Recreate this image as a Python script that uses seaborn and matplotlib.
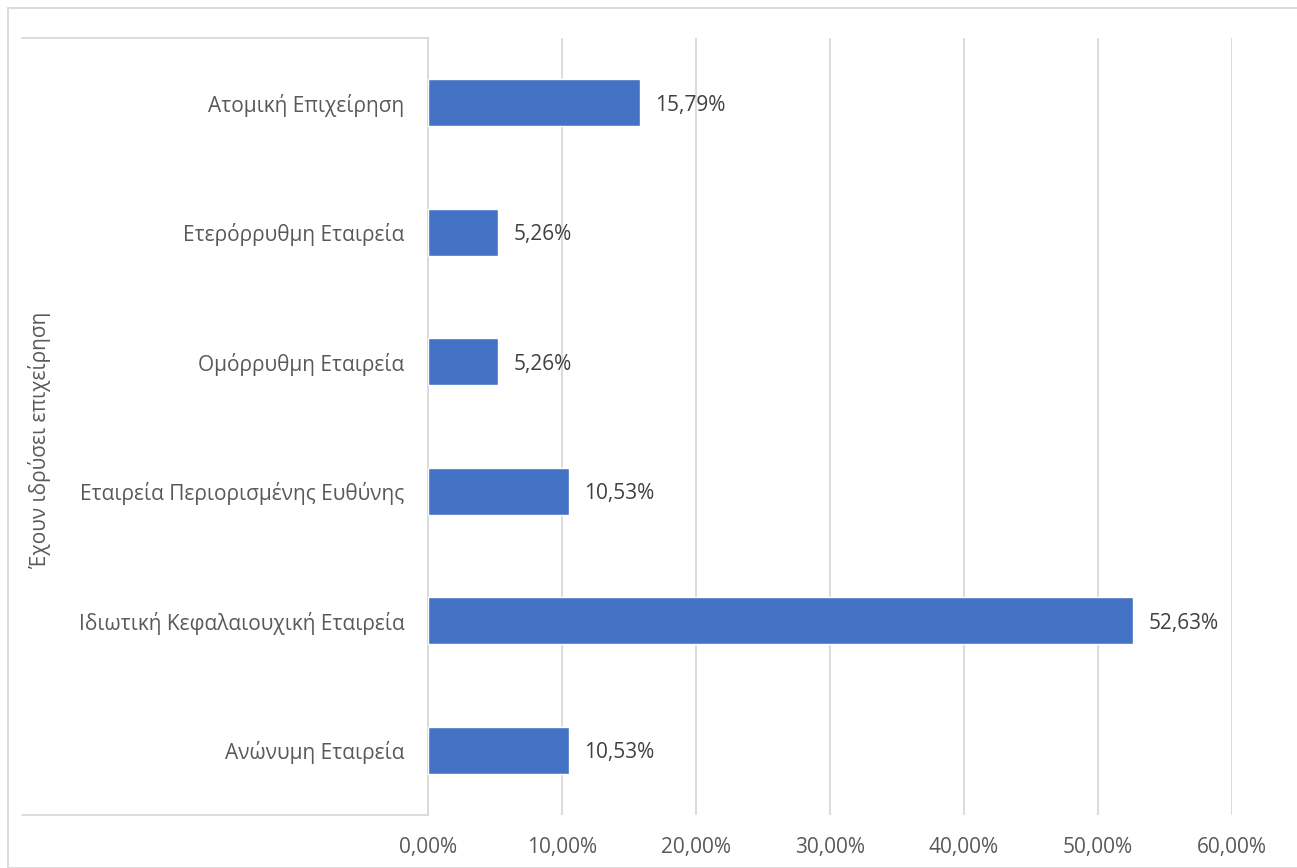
import matplotlib
matplotlib.use("Agg")
import matplotlib.pyplot as plt
from matplotlib.lines import Line2D
from matplotlib.patches import Rectangle
from matplotlib.ticker import FuncFormatter
import seaborn as sns
import pandas as pd

# ── data ──────────────────────────────────────────────────────────────
categories = ["Ατομική Επιχείρηση", "Ετερόρρυθμη Εταιρεία", "Ομόρρυθμη Εταιρεία",
              "Εταιρεία Περιορισμένης Ευθύνης", "Ιδιωτική Κεφαλαιουχική Εταιρεία",
              "Ανώνυμη Εταιρεία"]
values = [15.79, 5.26, 5.26, 10.53, 52.63, 10.53]
xticks = [0, 10, 20, 30, 40, 50, 60]
axis_title = "Έχουν ιδρύσει επιχείρηση"

df = pd.DataFrame({"cat": categories, "val": values})

sns.set_theme(style="white")
plt.rcParams['font.family'] = ['Open Sans', 'DejaVu Sans']

W, H = 1297, 868
FS = 15
fig = plt.figure(figsize=(W / 100, H / 100), dpi=100)
ax = fig.add_axes([428 / W, (H - 815) / H, (1232 - 428) / W, (815 - 38) / H])

sns.barplot(data=df, x="val", y="cat", orient="h", color="#4472C4",
            width=0.36, saturation=1, ax=ax, zorder=3)

ax.set_xlim(0, 60)
ax.set_xticks(xticks)
ax.xaxis.set_major_formatter(FuncFormatter(lambda v, p: f"{v:.2f}%".replace(".", ",")))
ax.grid(axis="x", color="#D9D9D9", linewidth=1.3, zorder=0)
ax.set_xlabel(""); ax.set_ylabel("")
for s in ["top", "right", "bottom"]:
    ax.spines[s].set_visible(False)
ax.spines["left"].set_color("#D9D9D9")
ax.spines["left"].set_linewidth(1.3)
ax.tick_params(axis="x", length=0, pad=16, labelsize=FS, labelcolor="#595959")
ax.tick_params(axis="y", length=0, pad=17, labelsize=FS, labelcolor="#595959")
for t in ax.get_yticklabels():
    t.set_va("center_baseline")

for i, v in enumerate(values):
    ax.annotate(f"{v:.2f}%".replace(".", ","), (v, i), xytext=(11, 0),
                textcoords="offset points", va="center_baseline", ha="left",
                fontsize=FS, color="#404040")

# category axis frame lines (Excel style)
for y in (38, 815):
    fig.add_artist(Line2D([22 / W, 428 / W], [(H - y) / H] * 2, color="#D9D9D9",
                          linewidth=1.3, transform=fig.transFigure))
fig.add_artist(Rectangle((8 / W, 0), 1.2, (H - 8) / H, transform=fig.transFigure,
                         fill=False, edgecolor="#D9D9D9", linewidth=1.3))

fig.text(40 / W, (H - 440) / H, axis_title, rotation=90, ha="center", va="center",
         fontsize=FS, color="#595959")

fig.savefig("out.png", dpi=100)
